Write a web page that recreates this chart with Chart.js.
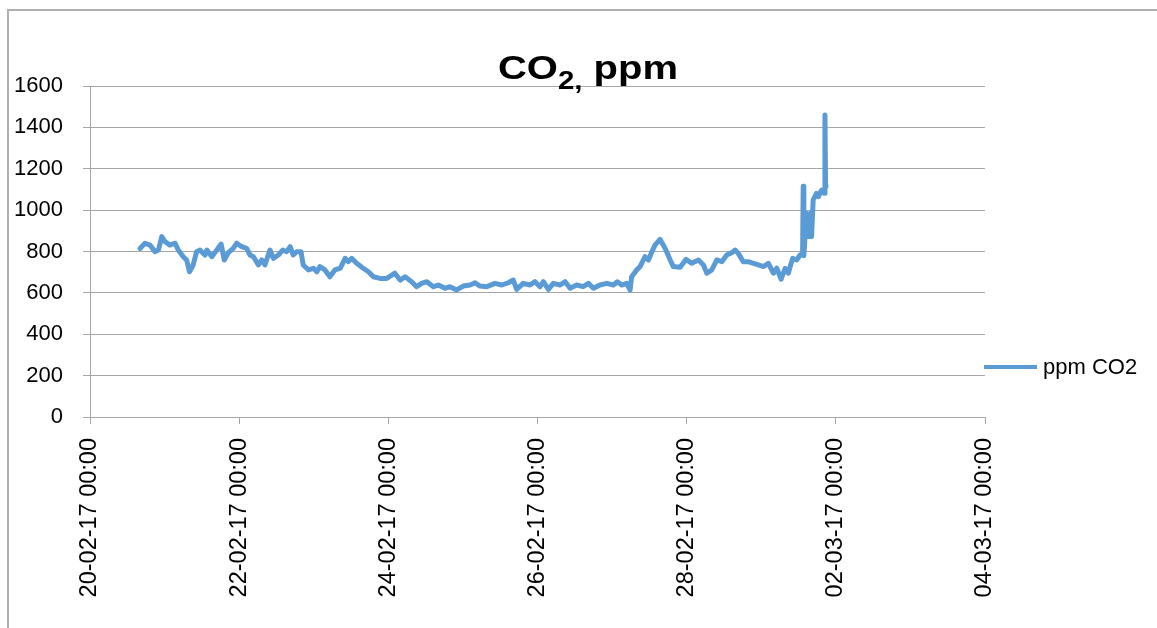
<!DOCTYPE html>
<html>
<head>
<meta charset="utf-8">
<script src="https://cdn.jsdelivr.net/npm/chart.js@4.4.1/dist/chart.umd.min.js"></script>
<style>
  html, body { margin: 0; padding: 0; background: #fff; }
  #wrap { position: relative; width: 1157px; height: 628px; overflow: hidden; }
  #frame { position: absolute; left: 7px; top: 9px; width: 1200px; height: 700px;
           border-top: 2px solid #b0b0b0; border-left: 2px solid #b0b0b0; pointer-events: none; }
</style>
</head>
<body>
<div id="wrap">
  <canvas id="co2Chart" width="1157" height="628"></canvas>
  <div id="frame"></div>
</div>
<script>
// hours since 20-02-17 00:00
const hours = [
  16.1, 17.7, 19.3, 20.9, 22.0, 23.1, 24.1, 25.7, 27.4, 28.4,
  30.0, 31.1, 32.0, 33.2, 34.3, 35.4, 37.0, 37.6, 39.2, 40.8,
  42.2, 43.2, 44.5, 46.1, 47.2, 48.8, 50.4, 51.5, 52.6, 54.2,
  55.3, 56.3, 57.9, 59.0, 60.6, 62.0, 63.3, 64.4, 65.4, 66.5,
  67.9, 68.6, 70.3, 71.9, 73.0, 74.0, 75.6, 77.2, 78.8, 80.5,
  82.1, 83.1, 84.2, 85.8, 87.9, 89.6, 91.2, 93.3, 95.5, 98.1,
  99.8, 101.4, 103.5, 105.1, 106.7, 108.4, 110.5, 112.1, 114.2, 115.8,
  118.0, 120.1, 122.3, 123.9, 125.5, 127.7, 130.3, 132.5, 134.6, 136.2,
  137.3, 139.4, 141.6, 143.2, 144.8, 145.9, 147.5, 149.1, 151.2, 152.9,
  154.5, 156.6, 158.7, 160.4, 162.0, 164.1, 166.3, 168.4, 169.7, 171.1,
  172.7, 173.8, 174.3, 175.9, 177.0, 178.6, 179.7, 180.8, 181.8, 183.4,
  185.1, 186.7, 187.7, 189.9, 191.8, 193.6, 195.8, 197.4, 198.5, 200.1,
  201.7, 203.3, 204.9, 206.5, 207.6, 208.6, 210.2, 211.8, 213.5, 215.1,
  216.7, 218.3, 219.9, 221.0, 222.4, 223.7, 224.7, 226.1, 227.4, 228.5,
  229.3, 229.5, 229.7, 230.6, 231.4, 231.9, 232.2, 232.7, 233.8, 234.4,
  235.4, 236.3, 236.5, 236.7, 236.8
];
const ppmCO2 = [
  815, 840, 831, 799, 807, 872, 848, 831, 840, 807,
  775, 759, 702, 735, 799, 807, 783, 807, 775, 807,
  836, 759, 794, 815, 840, 823, 815, 783, 775, 735,
  759, 735, 807, 767, 783, 807, 799, 823, 783, 799,
  799, 735, 711, 719, 702, 727, 711, 678, 711, 719,
  767, 751, 767, 743, 719, 702, 678, 670, 670, 695,
  662, 678, 654, 630, 646, 654, 630, 638, 622, 630,
  614, 633, 638, 649, 633, 630, 646, 638, 649, 662,
  617, 646, 638, 654, 630, 654, 617, 646, 638, 654,
  622, 638, 630, 646, 622, 638, 646, 638, 654, 638,
  646, 614, 678, 711, 727, 775, 759, 799, 831, 859,
  815, 759, 727, 724, 762, 743, 759, 735, 695, 711,
  759, 751, 783, 794, 807, 791, 751, 751, 743, 735,
  727, 743, 695, 719, 666, 719, 695, 767, 759, 783,
  790, 1115, 780, 985, 872, 985, 872, 1049, 1081, 1065,
  1097, 1081, 1460, 1120, 1113
];
const seriesName = 'ppm CO2';
const xMaxHours = 288;
const xStepHours = 48;
const yMax = 1600;
const yStep = 200;

const lineColor = '#5b9bd5';
const gridColor = '#a6a6a6';
const fontFamily = "'Liberation Sans', Arial, sans-serif";

const startMs = Date.UTC(2017, 1, 20, 0, 0);
function fmtDate(h) {
    const d = new Date(startMs + h * 3600 * 1000);
    const p = n => String(n).padStart(2, '0');
    return p(d.getUTCDate()) + '-' + p(d.getUTCMonth() + 1) + '-' + p(d.getUTCFullYear() % 100) +
        ' ' + p(d.getUTCHours()) + ':' + p(d.getUTCMinutes());
}

// title with subscript 2 and legend on the right
const decorPlugin = {
    id: 'decor',
    afterDraw(chart) {
        const c = chart.ctx;
        c.save();
        c.fillStyle = '#000';
        c.textBaseline = 'alphabetic';
        const big = "bold 34px " + fontFamily;
        const small = "bold 25px " + fontFamily;
        c.font = big;
        const w1 = c.measureText('CO').width;
        const w3 = c.measureText(' ppm').width;
        c.font = small;
        const w2 = c.measureText('2,').width;
        const total = w1 + w2 + w3;
        // stretch slightly to match the original title width
        const sx = 180 / total;
        c.translate(498, 0);
        c.scale(sx, 1);
        let x = 0;
        const base = 79;
        c.font = big;
        c.fillText('CO', x, base);
        x += w1;
        c.font = small;
        c.fillText('2,', x, base + 10);
        x += w2;
        c.font = big;
        c.fillText(' ppm', x, base);
        c.restore();

        // legend
        c.save();
        const ly = 367;
        c.strokeStyle = lineColor;
        c.lineWidth = 4;
        c.beginPath();
        c.moveTo(984, ly);
        c.lineTo(1037, ly);
        c.stroke();
        c.fillStyle = '#000';
        c.font = "22px " + fontFamily;
        c.textBaseline = 'middle';
        c.fillText(seriesName, 1043, ly + 1);
        c.restore();
    }
};

const ctx = document.getElementById('co2Chart');
new Chart(ctx, {
    type: 'line',
    data: {
        datasets: [{
            label: seriesName,
            data: hours.map((h, i) => ({ x: h, y: ppmCO2[i] })),
            borderColor: lineColor,
            backgroundColor: lineColor,
            borderWidth: 5,
            pointRadius: 0,
            tension: 0,
            borderJoinStyle: 'round',
            borderCapStyle: 'round'
        }]
    },
    options: {
        responsive: false,
        animation: false,
        layout: { padding: { left: 0, right: 172, top: 86, bottom: 0 } },
        scales: {
            x: {
                type: 'linear',
                min: 0,
                max: xMaxHours,
                afterFit: s => { s.height = 211; },
                afterBuildTicks: s => {
                    s.ticks = [];
                    for (let v = 0; v <= xMaxHours; v += xStepHours) s.ticks.push({ value: v });
                },
                grid: { drawOnChartArea: false, drawTicks: true, tickLength: 7, color: gridColor },
                border: { color: gridColor },
                ticks: {
                    minRotation: 90,
                    maxRotation: 90,
                    padding: 14,
                    color: '#000',
                    font: { family: fontFamily, size: 23.5 },
                    callback: v => fmtDate(v)
                }
            },
            y: {
                min: 0,
                max: yMax,
                afterFit: s => { s.width = 90; },
                grid: { color: gridColor, tickLength: 7 },
                border: { color: gridColor },
                ticks: {
                    stepSize: yStep,
                    padding: 20,
                    color: '#000',
                    font: { family: fontFamily, size: 22 },
                    callback: v => String(v)
                }
            }
        },
        plugins: {
            legend: { display: false },
            tooltip: { enabled: false }
        }
    },
    plugins: [decorPlugin]
});
</script>
</body>
</html>
